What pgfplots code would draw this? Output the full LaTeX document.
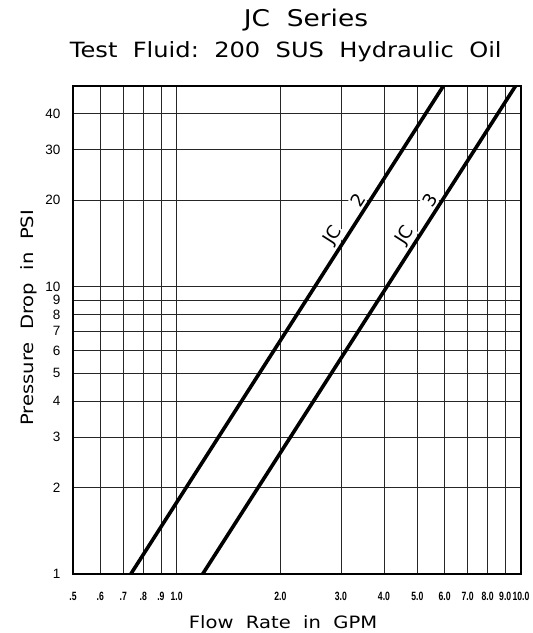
\documentclass[border=0pt]{standalone}
\usepackage{fontspec}
\setmainfont{DejaVu Sans}
\newfontfamily\widefont{DejaVu Sans}[FakeStretch=1.15]
\newfontfamily\tickfont{Liberation Sans}
\newfontfamily\xtickfont{Liberation Sans}[FakeStretch=0.72]
\usepackage{pgfplots}
\pgfplotsset{compat=1.18}
\tikzset{curvelabel/.style={sloped, above=1bp, font=\fontsize{18bp}{18bp}\selectfont, fill=white, inner sep=1bp}}
\begin{document}
\begin{tikzpicture}
\useasboundingbox (-73bp,-59bp) rectangle (460bp,574bp);
\begin{axis}[
  at={(0,0)}, anchor=south west,
  scale only axis, width=448bp, height=488bp,
  xmode=log, ymode=log,
  xmin=0.5, xmax=10, ymin=1, ymax=50,
  clip=false,
  axis line style={line width=1.4bp},
  xtick={0.5,0.6,0.7,0.8,0.9,1,2,3,4,5,6,7,8,9,10},
  xticklabels={.5,.6,.7,.8,.9,1.0,2.0,3.0,4.0,5.0,6.0,7.0,8.0,9.0,10.0},
  ytick={1,2,3,4,5,6,7,8,9,10,20,30,40},
  yticklabels={1,2,3,4,5,6,7,8,9,10,20,30,40},
  minor xtick={}, minor ytick={},
  major tick length=0pt,
  grid=major,
  major grid style={black!85, line width=0.7bp},
  /pgf/number format/assume math mode=true,
  xticklabel style={font=\xtickfont\bfseries\fontsize{12bp}{12bp}\selectfont, yshift=-15bp},
  yticklabel style={font=\tickfont\fontsize{13.5bp}{13.5bp}\selectfont, xshift=-9bp},
  xlabel={Flow\ \ Rate\ \ in\ \ GPM},
  ylabel={Pressure\ \ Drop\ \ in\ \ PSI},
  label style={font=\widefont\fontsize{17bp}{17bp}\selectfont},
  xlabel style={at={(rel axis cs:0.469,0)}, anchor=center, yshift=-48bp},
  ylabel style={at={(rel axis cs:0,0.525)}, anchor=center, yshift=44bp},
]
\addplot[black, line width=3.6bp] coordinates {(0.736,1) (5.95,50)}
  node[pos=0.68, curvelabel] {JC} node[pos=0.755, curvelabel] {2};
\addplot[black, line width=3.6bp] coordinates {(1.19,1) (9.64,50)}
  node[pos=0.68, curvelabel] {JC} node[pos=0.755, curvelabel] {3};
\node[font=\widefont\fontsize{23bp}{23bp}\selectfont] at (rel axis cs:0.52,1) [yshift=66bp] {JC\ \ Series};
\node[font=\widefont\fontsize{21bp}{21bp}\selectfont] at (rel axis cs:0.475,1) [yshift=34bp] {Test\ \ Fluid:\ \ 200\ \ SUS\ \ Hydraulic\ \ Oil};
\end{axis}
\end{tikzpicture}
\end{document}
